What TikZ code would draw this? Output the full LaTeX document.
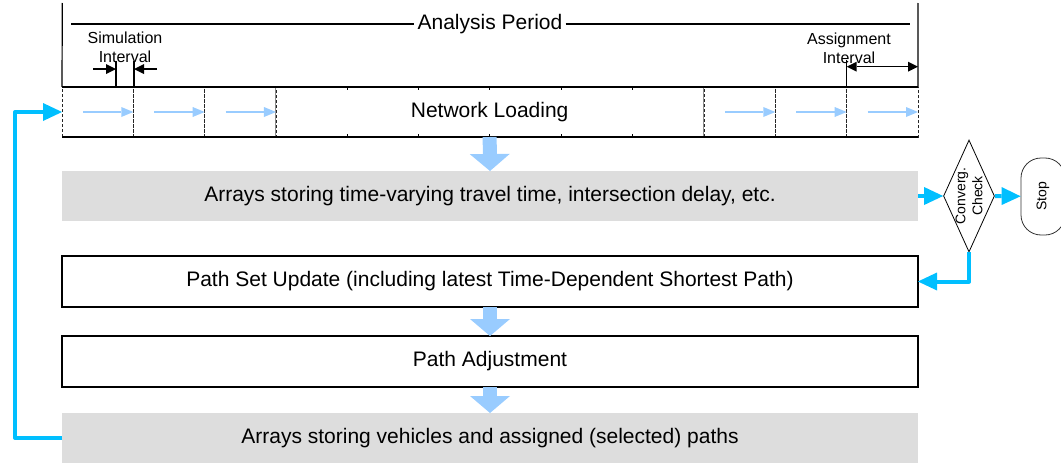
\documentclass[tikz,border=0pt]{standalone}
\usepackage{fontspec}
\setmainfont{Liberation Sans}
\usetikzlibrary{arrows.meta,shapes.geometric}
\definecolor{flowblue}{HTML}{99CCFF}
\definecolor{loopcyan}{HTML}{00BFFF}
\definecolor{arraygray}{HTML}{DDDDDD}

\begin{document}
\begin{tikzpicture}[x=1pt,y=-1pt,
    bigtext/.style={font=\fontsize{21pt}{24pt}\selectfont},
    smalltext/.style={font=\fontsize{16pt}{19pt}\selectfont, align=center},
    tinytext/.style={font=\fontsize{14pt}{17pt}\selectfont, align=center},
    cellbox/.style={draw=black!85, dash pattern=on 3pt off 2pt, line width=0.7pt, minimum width=71.33pt, minimum height=50pt, inner sep=0pt, outer sep=0pt},
    loadbox/.style={bigtext, draw=black!45, line width=0.6pt, minimum width=428pt, minimum height=50pt, inner sep=0pt, outer sep=0pt},
    stagebox/.style={bigtext, draw=black, line width=1.2pt, minimum width=856pt, minimum height=51pt, inner sep=0pt, outer sep=0pt},
    arraybox/.style={bigtext, fill=arraygray, minimum width=856pt, minimum height=50pt, inner sep=0pt, outer sep=0pt},
    decision/.style={diamond, draw, line width=0.8pt, minimum width=51pt, minimum height=112pt, inner sep=0pt},
    stopbox/.style={tinytext, draw=black!80, line width=0.8pt, rounded corners=20pt, rotate=90, minimum width=77pt, minimum height=44pt, inner sep=0pt},
    rule/.style={line width=1.2pt},
    dimarrow/.style={line width=1.2pt, -{Triangle[length=10pt,width=10pt,line width=0pt]}},
    cellarrow/.style={draw=flowblue, line width=2pt, -{Triangle[length=12pt,width=10pt,line width=0pt]}},
    bigarrow/.style={draw=flowblue, line width=14pt, -{Triangle[length=17pt,width=40pt,line width=0pt]}},
    loopline/.style={draw=loopcyan, line width=4pt, line join=round, -{Triangle[length=19pt,width=18pt,line width=0pt]}}
]
    \useasboundingbox (0,0) rectangle (1061,463);

    \node[cellbox] (c1)  at (97.67,112)  {};
    \node[cellbox] (c2)  at (169,112)    {};
    \node[cellbox] (c3)  at (240.33,112) {};
    \node[loadbox] (load) at (489.67,112) {Network Loading};
    \node[cellbox] (c10) at (739.67,112) {};
    \node[cellbox] (c11) at (811,112)    {};
    \node[cellbox] (c12) at (882.33,112) {};
    \foreach \k in {1,...,5} {
        \draw[line width=0.6pt] ([xshift=\k*71.33pt]load.north west) -- ++(0,3);
        \draw[line width=0.6pt] ([xshift=\k*71.33pt]load.south west) -- ++(0,-3);
    }
    \draw[rule] (c1.north west) -- (c12.north east);
    \draw[rule] (c1.south west) -- (c12.south east);

    \draw[cellarrow] ([xshift=21pt]c1.west)  -- (c1.east);
    \draw[cellarrow] ([xshift=21pt]c2.west)  -- (c2.east);
    \draw[cellarrow] ([xshift=21pt]c3.west)  -- (c3.east);
    \draw[cellarrow] ([xshift=21pt]c10.west) -- (c10.east);
    \draw[cellarrow] ([xshift=21pt]c11.west) -- (c11.east);
    \draw[cellarrow] ([xshift=21pt]c12.west) -- (c12.east);

    \coordinate (tl) at (62.3,3);
    \coordinate (tr) at (918,3);
    \draw[rule] (tl) -- (c1.north west);
    \draw[rule] (tr) -- (c12.north east);
    \node[bigtext, inner sep=3pt] (period) at (490,24) {Analysis Period};
    \coordinate (pl) at (71,24);
    \coordinate (pr) at (910,24);
    \draw[rule] (pl) -- (period) -- (pr);

    \node[smalltext] (sim) at (125,47.5) {Simulation\\Interval};
    \coordinate (s1) at (116,61);
    \coordinate (s2) at (134,61);
    \draw[rule] (s1) -- (s1 |- c1.north);
    \draw[rule] (s2) -- (s2 |- c1.north);
    \coordinate (sl) at (93,69);
    \coordinate (sr) at (157,69);
    \draw[dimarrow] (sl) -- (sl -| s1);
    \draw[dimarrow] (sr) -- (sr -| s2);

    \node[smalltext] (asg) at (849,48.5) {Assignment\\Interval};
    \coordinate (a1) at (c12.north west |- 0,60);
    \draw[rule] (a1) -- (c12.north west);
    \coordinate (a2) at (c12.north west |- 0,66.7);
    \draw[rule, {Triangle[length=10pt,width=10pt,line width=0pt]}-{Triangle[length=10pt,width=10pt,line width=0pt]}] (a2) -- (a2 -| c12.east);

    \node[arraybox] (times) at (490,196) {Arrays storing time-varying travel time, intersection delay, etc.};
    \node[stagebox] (pset)  at (490,281.5) {Path Set Update (including latest Time-Dependent Shortest Path)};
    \node[stagebox] (padj)  at (490,361.5) {Path Adjustment};
    \node[arraybox] (paths) at (490,438) {Arrays storing vehicles and assigned (selected) paths};

    \draw[bigarrow] (load.south) -- (times.north);
    \draw[bigarrow] (pset.south) -- (padj.north);
    \draw[bigarrow] (padj.south) -- (paths.north);

    \node[decision] (check) at (969,196) {};
    \node[tinytext, rotate=90] (checktext) at (check) {Converg.\\Check};
    \node[stopbox] (stop) at (1043,196.5) {Stop};

    \draw[loopline] (times.east) -- (check.west);
    \draw[loopline] (check.east) -- (stop);
    \draw[loopline] (check.south) |- (pset.east);
    \coordinate (back) at (15,438);
    \draw[loopline] (paths.west) -- (back) |- (c1.west);
\end{tikzpicture}
\end{document}
